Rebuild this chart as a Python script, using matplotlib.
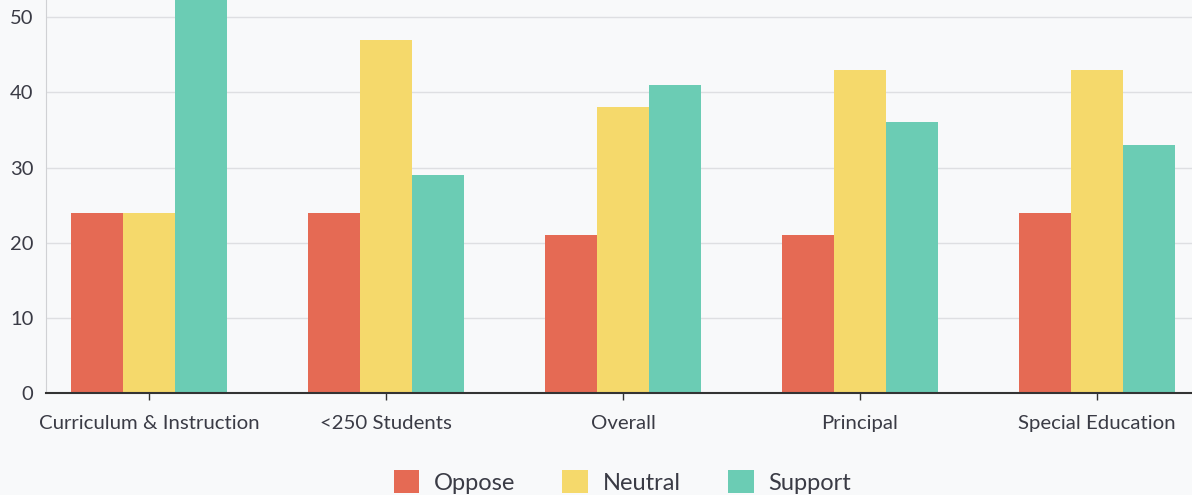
import matplotlib.pyplot as plt
import numpy as np

categories = ["Curriculum & Instruction", "<250 Students", "Overall", "Principal", "Special Education"]
oppose = [24, 24, 21, 21, 24]
neutral = [24, 47, 38, 43, 43]
support = [55, 29, 41, 36, 33]

series = ["Oppose", "Neutral", "Support"]
colors = ["#e56a54", "#f5d96b", "#6bccb4"]

plt.rcParams['font.family'] = ['Lato', 'DejaVu Sans']
bg = "#f8f9fa"
text_color = "#3a3b45"

fig = plt.figure(figsize=(11.92, 4.95), dpi=100, facecolor=bg)
ax = fig.add_axes([46 / 1192, 1 - 393 / 495, 1146 / 1192, 393 / 495], facecolor=bg)

x = np.arange(len(categories))
w = 0.22
for i, (vals, name, c) in enumerate(zip([oppose, neutral, support], series, colors)):
    ax.bar(x + (i - 1) * w, vals, width=w, color=c, label=name, zorder=3)

ax.set_xlim(-0.4346, 4.401)
ax.set_ylim(0, 52.3)
ax.set_yticks([0, 10, 20, 30, 40, 50])
ax.grid(axis='y', color="#dedfe2", linewidth=1, zorder=0)
ax.set_xticks(x)
ax.set_xticklabels(categories)
ax.tick_params(axis='x', length=5, width=1, color="#333333", labelsize=14.7,
               labelcolor=text_color, pad=11)
ax.tick_params(axis='y', length=0, labelsize=14.5, labelcolor=text_color, pad=9)

for s in ["top", "right"]:
    ax.spines[s].set_visible(False)
ax.spines["left"].set_color("#d0d1d4")
ax.spines["bottom"].set_color("#333333")
ax.spines["bottom"].set_linewidth(1.5)
ax.spines["bottom"].set_zorder(4)

leg = fig.legend(loc="lower center", bbox_to_anchor=(622 / 1192, -0.04), ncol=3,
                 frameon=False, fontsize=17, handlelength=1.1, handleheight=1.1,
                 handletextpad=0.6, columnspacing=2.0, labelcolor=text_color)

fig.savefig("out.png", dpi=100, facecolor=bg)
